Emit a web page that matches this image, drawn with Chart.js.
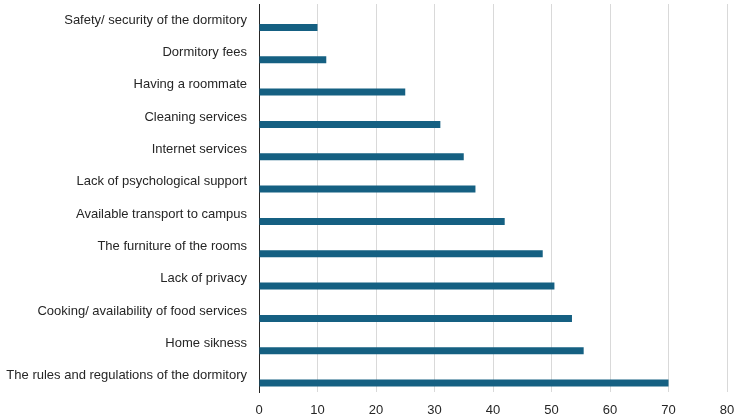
<!DOCTYPE html>
<html>
<head>
<meta charset="utf-8">
<script src="https://cdn.jsdelivr.net/npm/chart.js@4"></script>
<style>
    html, body { margin: 0; padding: 0; background: #ffffff; }
    #wrap { width: 750px; height: 419px; position: relative; }
</style>
</head>
<body>
<div id="wrap"><canvas id="dormChart"></canvas></div>
<script>
// Dormitory problems chart
const categories = [
    'Safety/ security of the dormitory',
    'Dormitory fees',
    'Having a roommate',
    'Cleaning services',
    'Internet services',
    'Lack of psychological support',
    'Available transport to campus',
    'The furniture of the rooms',
    'Lack of privacy',
    'Cooking/ availability of food services',
    'Home sikness',
    'The rules and regulations of the dormitory'
];
const values = [10, 11.5, 25, 31, 35, 37, 42, 48.5, 50.5, 53.5, 55.5, 70];
// empty series that sits above each bar (same as the source chart)
const spacerValues = categories.map(() => null);
const xTicks = [0, 10, 20, 30, 40, 50, 60, 70, 80];

const barColor = '#156082';
const textColor = '#262626';
const fontFamily = "'Liberation Sans', Arial, sans-serif";

const ctx = document.getElementById('dormChart').getContext('2d');
new Chart(ctx, {
    type: 'bar',
    data: {
        labels: categories,
        datasets: [
            {
                label: 'spacer',
                data: spacerValues,
                backgroundColor: barColor,
                categoryPercentage: 0.9,
                barPercentage: 0.48
            },
            {
                label: 'Responses',
                data: values,
                backgroundColor: barColor,
                borderWidth: 0,
                categoryPercentage: 0.9,
                barPercentage: 0.48
            }
        ]
    },
    options: {
        indexAxis: 'y',
        responsive: true,
        maintainAspectRatio: false,
        animation: false,
        layout: {
            padding: { top: 4, right: 23, bottom: 0, left: 0 }
        },
        plugins: {
            legend: { display: false },
            tooltip: { enabled: false }
        },
        scales: {
            x: {
                min: xTicks[0],
                max: xTicks[xTicks.length - 1],
                afterBuildTicks: (scale) => {
                    scale.ticks = xTicks.map(v => ({ value: v }));
                },
                afterFit: (scale) => {
                    scale.height = 27;
                    scale.paddingLeft = 0;
                    scale.paddingRight = 0;
                },
                grid: { color: '#d9d9d9', lineWidth: 1, drawTicks: false },
                border: { display: false },
                ticks: {
                    padding: 11,
                    color: textColor,
                    font: { family: fontFamily, size: 13 }
                }
            },
            y: {
                afterFit: (scale) => {
                    scale.width = 259;
                    scale.paddingTop = 0;
                    scale.paddingBottom = 0;
                },
                grid: { display: false, drawTicks: false },
                border: { display: true, color: '#262626', width: 1 },
                ticks: {
                    autoSkip: false,
                    padding: 12,
                    color: textColor,
                    font: { family: fontFamily, size: 13 }
                }
            }
        }
    }
});
</script>
</body>
</html>
